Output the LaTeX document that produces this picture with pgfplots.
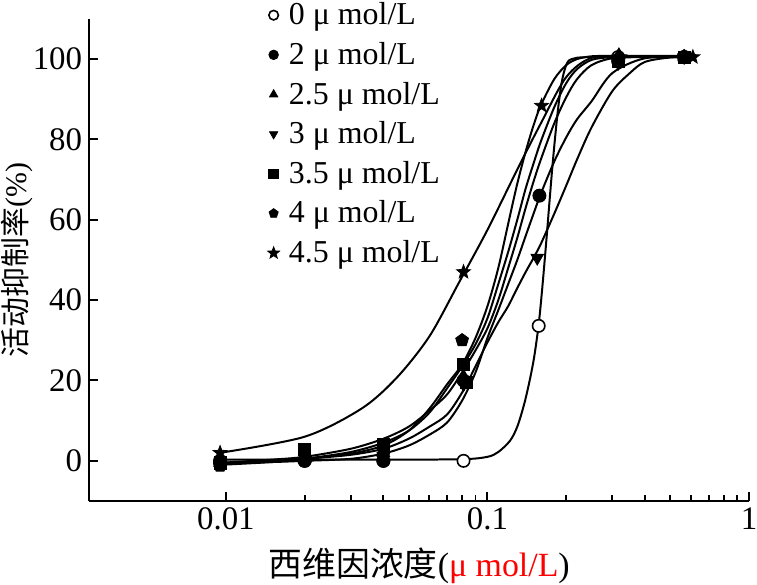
\documentclass[border=0pt]{standalone}
\usepackage{fontspec}
\setmainfont{Liberation Serif}
\newfontfamily\cjk{Noto Sans CJK SC}
\usepackage{pgfplots}
\pgfplotsset{compat=1.18}
\pgfdeclareplotmark{fstar}{%
 \pgfpathmoveto{\pgfpointpolar{90}{1.3\pgfplotmarksize}}%
 \pgfpathlineto{\pgfpointpolar{126}{0.55\pgfplotmarksize}}%
 \pgfpathlineto{\pgfpointpolar{162}{1.3\pgfplotmarksize}}%
 \pgfpathlineto{\pgfpointpolar{198}{0.55\pgfplotmarksize}}%
 \pgfpathlineto{\pgfpointpolar{234}{1.3\pgfplotmarksize}}%
 \pgfpathlineto{\pgfpointpolar{270}{0.55\pgfplotmarksize}}%
 \pgfpathlineto{\pgfpointpolar{306}{1.3\pgfplotmarksize}}%
 \pgfpathlineto{\pgfpointpolar{342}{0.55\pgfplotmarksize}}%
 \pgfpathlineto{\pgfpointpolar{18}{1.3\pgfplotmarksize}}%
 \pgfpathlineto{\pgfpointpolar{54}{0.55\pgfplotmarksize}}%
 \pgfpathclose\pgfusepathqfillstroke}
\begin{document}
\begin{tikzpicture}
\begin{axis}[
  scale only axis, width=331.25pt, height=242pt,
  xmode=log, xmin=0.003, xmax=1, ymin=-10, ymax=110,
  axis x line*=bottom, axis y line*=left,
  axis line style={line width=1pt},
  xtick={0.01,0.1,1}, xticklabels={0.01,0.1,1},
  minor xtick={},
  ytick={0,20,40,60,80,100},
  tick align=inside, major tick length=4.5pt,
  tick style={line width=1pt, black},
  ticklabel style={font=\fontsize{16.5}{16.5}\selectfont},
  /pgf/number format/assume math mode=true,
  xlabel={{\cjk 西维因浓度}(\textcolor{red}{μ mol/L})},
  xlabel style={font=\fontsize{17}{17}\selectfont, at={(rel axis cs:0.5,0)}, anchor=center, yshift=-32.5pt},
  ylabel={{\cjk 活动抑制率}(\%)},
  ylabel style={font=\fontsize{15}{15}\selectfont, at={(rel axis cs:0,0.5)}, anchor=center, yshift=36.25pt},
  legend style={draw=none, fill=none, at={(0.261,1.047)}, anchor=north west,
    font=\fontsize{16}{16}\selectfont, row sep=5.3pt, nodes={inner sep=1pt}},
  legend cell align=left,
  legend image code/.code={\draw[#1, mark size=2.4pt] plot coordinates {(0cm,0cm)}; \path (-2.4pt,0pt) (6.5pt,0pt);},
  every axis plot/.append style={black},
]
% fitted curves
\addplot[line width=1pt, smooth, forget plot] coordinates {(0.0095,0.3)(0.02,0.3)(0.04,0.3)(0.08,0.4)(0.1,1)(0.11,2.2)(0.122,5)(0.13,8.5)(0.138,14)(0.145,20)(0.151,26)(0.157,34)(0.162,43)(0.168,55)(0.177,73)(0.185,86)(0.192,94)(0.2,98.5)(0.21,100)(0.25,100.5)(0.6,100.5)};
\addplot[line width=1pt, smooth, forget plot] coordinates {(0.0095,-0.8)(0.015,-0.2)(0.02,0.5)(0.03,1.8)(0.04,3.8)(0.05,7.5)(0.06,13)(0.07,19)(0.08,24)(0.09,30.6)(0.1,38.5)(0.11,48)(0.12,59)(0.13,69)(0.14,77)(0.15,83.5)(0.16,88.5)(0.18,95)(0.2,98.5)(0.22,100)(0.25,100.7)(0.3,100.8)(0.4,100.8)(0.6,100.8)};
\addplot[line width=1pt, smooth, forget plot] coordinates {(0.0095,-1)(0.015,-0.3)(0.02,0.5)(0.03,2.2)(0.04,4.5)(0.05,7.5)(0.06,12)(0.07,18)(0.08,23.5)(0.09,29)(0.1,35.5)(0.11,44)(0.12,52)(0.13,60)(0.14,67.8)(0.15,74)(0.16,79.5)(0.18,88)(0.2,94)(0.22,97.5)(0.25,99.8)(0.3,100.5)(0.4,100.6)(0.6,100.6)};
\addplot[line width=1pt, smooth, forget plot] coordinates {(0.0095,-0.5)(0.015,0.3)(0.02,1)(0.03,3)(0.04,5.5)(0.05,8.5)(0.06,12.5)(0.07,16.5)(0.08,22)(0.09,27.5)(0.1,33)(0.11,40)(0.12,48)(0.13,55.5)(0.14,63)(0.15,69.5)(0.16,75)(0.18,84)(0.2,90.5)(0.22,95)(0.25,98.5)(0.3,100.2)(0.4,100.5)(0.6,100.5)};
\addplot[line width=1pt, smooth, forget plot] coordinates {(0.0095,-0.5)(0.015,-0.3)(0.02,0)(0.03,0.5)(0.04,1.8)(0.05,3.8)(0.06,6.5)(0.07,9.5)(0.08,15)(0.09,22)(0.1,30.6)(0.11,37.5)(0.12,44)(0.13,50)(0.14,56)(0.15,61.5)(0.16,66.5)(0.18,74.5)(0.2,80.5)(0.22,85)(0.25,89.5)(0.3,96.5)(0.4,100.2)(0.6,100.5)};
\addplot[line width=1pt, smooth, forget plot] coordinates {(0.0095,-0.5)(0.015,0)(0.02,0.5)(0.03,1.5)(0.04,3)(0.05,5.5)(0.06,8.5)(0.07,11.5)(0.08,17)(0.09,23.5)(0.1,29.5)(0.11,34.5)(0.12,38.5)(0.13,43)(0.14,47)(0.15,50.5)(0.16,54)(0.18,61.5)(0.2,68.5)(0.22,75)(0.25,83)(0.3,92)(0.35,96.5)(0.4,99.3)(0.5,100.4)(0.6,100.5)};
\addplot[line width=1pt, smooth, forget plot] coordinates {(0.0095,2)(0.02,6)(0.033,13)(0.045,20.7)(0.06,31)(0.078,44.5)(0.1,57.5)(0.13,72.5)(0.16,84)(0.2,95.5)(0.25,100.3)(0.35,100.6)(0.6,100.6)};
% measured points
\addplot[only marks, mark=*, mark size=3.1pt, mark options={fill=white, line width=0.8pt}] coordinates {(0.0095,0)(0.02,0)(0.04,0)(0.081,0)(0.157,33.6)(0.316,100.5)(0.565,100.5)};
\addlegendentry{0 μ mol/L}
\addplot[only marks, mark=*, mark size=3.3pt] coordinates {(0.0095,-0.5)(0.02,0)(0.04,0)(0.081,20)(0.158,66)(0.316,99.5)(0.565,100.5)};
\addlegendentry{2 μ mol/L}
\addplot[only marks, mark=triangle*, mark size=3.6pt] coordinates {(0.0095,-0.5)(0.02,0.5)(0.04,2)(0.081,21)(0.318,101)(0.565,100.5)};
\addlegendentry{2.5 μ mol/L}
\addplot[only marks, mark=triangle*, mark size=3.6pt, mark options={rotate=180}] coordinates {(0.0095,-0.5)(0.02,0.5)(0.04,2.5)(0.081,19)(0.155,50.5)(0.316,99)(0.565,100.5)};
\addlegendentry{3 μ mol/L}
\addplot[only marks, mark=square*, mark size=3.1pt] coordinates {(0.0095,-0.5)(0.02,2.9)(0.04,4.1)(0.081,24)(0.083,19.5)(0.316,99.5)(0.565,100.5)};
\addlegendentry{3.5 μ mol/L}
\addplot[only marks, mark=pentagon*, mark size=3.4pt] coordinates {(0.0095,-1.2)(0.02,0)(0.04,1.5)(0.08,30)(0.316,100)(0.565,100.7)};
\addlegendentry{4 μ mol/L}
\addplot[only marks, mark=fstar, mark size=2.8pt] coordinates {(0.0095,2)(0.081,47)(0.161,88.4)(0.32,100.5)(0.61,100.5)};
\addlegendentry{4.5 μ mol/L}
\end{axis}
\pgfresetboundingbox
\path[use as bounding box] ([xshift=-44.75pt,yshift=-42pt]current axis.south west) rectangle ([xshift=4pt,yshift=9.5pt]current axis.north east);
\end{tikzpicture}
\end{document}
